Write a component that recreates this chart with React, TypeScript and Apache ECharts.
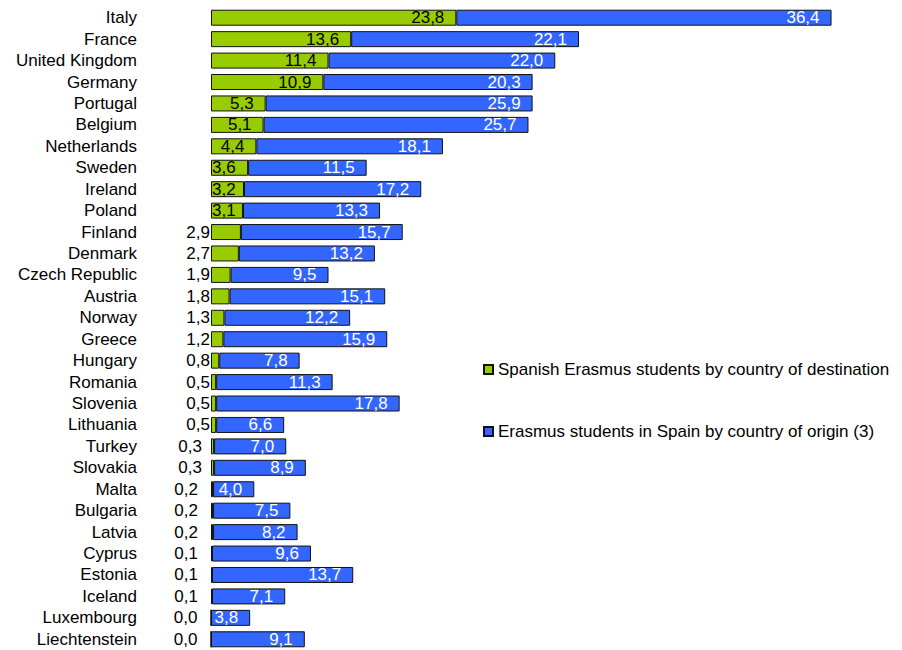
import React, { useEffect, useRef } from "react";
import * as echarts from "echarts";

const countries = [
  "Italy", "France", "United Kingdom", "Germany", "Portugal", "Belgium", "Netherlands",
  "Sweden", "Ireland", "Poland", "Finland", "Denmark", "Czech Republic", "Austria",
  "Norway", "Greece", "Hungary", "Romania", "Slovenia", "Lithuania", "Turkey",
  "Slovakia", "Malta", "Bulgaria", "Latvia", "Cyprus", "Estonia", "Iceland",
  "Luxembourg", "Liechtenstein",
];
const spanishByDestination = [
  23.8, 13.6, 11.4, 10.9, 5.3, 5.1, 4.4, 3.6, 3.2, 3.1, 2.9, 2.7, 1.9, 1.8, 1.3,
  1.2, 0.8, 0.5, 0.5, 0.5, 0.3, 0.3, 0.2, 0.2, 0.2, 0.1, 0.1, 0.1, 0.0, 0.0,
];
const inSpainByOrigin = [
  36.4, 22.1, 22.0, 20.3, 25.9, 25.7, 18.1, 11.5, 17.2, 13.3, 15.7, 13.2, 9.5,
  15.1, 12.2, 15.9, 7.8, 11.3, 17.8, 6.6, 7.0, 8.9, 4.0, 7.5, 8.2, 9.6, 13.7,
  7.1, 3.8, 9.1,
];
const seriesNames = [
  "Spanish Erasmus students by country of destination",
  "Erasmus students in Spain by country of origin (3)",
];

const FONT = "Liberation Sans, Arial, sans-serif";
const FS = 17;
const fmt = (v: number) => v.toFixed(1).replace(".", ",");

export default function App() {
  const ref = useRef<HTMLDivElement>(null);
  useEffect(() => {
    if (!ref.current) return;
    const chart = echarts.init(ref.current, null, { renderer: "svg" });
    const greenData = spanishByDestination.map((v) => {
      let label: any;
      if (v >= 4) label = { position: "insideRight", distance: 12 };
      else if (v >= 3) label = { position: "insideLeft", distance: 1 };
      else label = { position: "left", distance: v >= 0.5 ? 1 : v >= 0.3 ? 9 : 13 };
      return { value: v, label };
    });
    chart.setOption({
      animation: false,
      textStyle: { fontFamily: FONT },
      legend: {
        orient: "vertical",
        left: 478,
        top: 356,
        itemWidth: 9,
        itemHeight: 9,
        itemGap: 45,
        icon: "rect",
        textStyle: { fontSize: FS, color: "#000", fontFamily: FONT },
        data: seriesNames,
      },
      grid: { left: 211, right: 21, top: 7, height: 644, containLabel: false },
      xAxis: { type: "value", min: 0, max: 65, show: false },
      yAxis: {
        type: "category",
        data: countries,
        inverse: true,
        axisLine: { show: false },
        axisTick: { show: false },
        axisLabel: { interval: 0, margin: 74, fontSize: FS, color: "#000", fontFamily: FONT },
      },
      series: [
        {
          name: seriesNames[0],
          type: "bar",
          stack: "total",
          barWidth: 16,
          itemStyle: { color: "#99CC00", borderColor: "#111", borderWidth: 1 },
          label: {
            show: true,
            color: "#000",
            fontSize: FS,
            fontFamily: FONT,
            formatter: (p: any) => fmt(p.value),
          },
          data: greenData,
        },
        {
          name: seriesNames[1],
          type: "bar",
          stack: "total",
          barWidth: 16,
          itemStyle: { color: "#3366FF", borderColor: "#111", borderWidth: 1 },
          label: {
            show: true,
            position: "insideRight",
            distance: 12,
            color: "#fff",
            fontSize: FS,
            fontFamily: FONT,
            formatter: (p: any) => fmt(p.value),
          },
          data: inSpainByOrigin,
        },
      ],
    });
    return () => chart.dispose();
  }, []);
  return (
    <div
      ref={ref}
      style={{ position: "fixed", left: 0, top: 0, width: 902, height: 650, background: "#fff" }}
    />
  );
}
